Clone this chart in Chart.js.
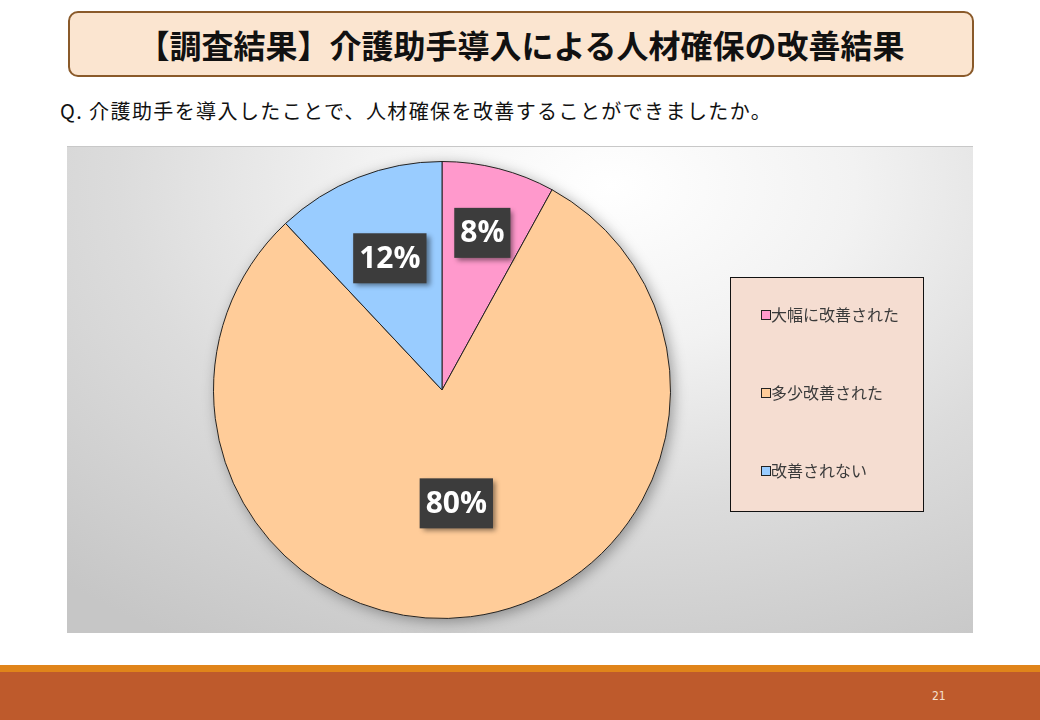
<!DOCTYPE html>
<html lang="ja">
<head>
<meta charset="utf-8">
<script src="https://cdn.jsdelivr.net/npm/chart.js@4/dist/chart.umd.min.js"></script>
<style>
  html, body { margin: 0; padding: 0; }
  body {
    width: 1040px; height: 720px; position: relative; overflow: hidden;
    background: #fff;
    font-family: "Noto Sans CJK JP", "Noto Sans", sans-serif;
  }
  .title {
    position: absolute; left: 68px; top: 11px; width: 902px; height: 62px;
    border: 2px solid #8a5a2a; border-radius: 10px;
    background: #fbe5d0;
    display: flex; align-items: center; justify-content: center;
    font-size: 32px; font-weight: bold; color: #111;
  }
  .question {
    position: absolute; left: 60px; top: 96px;
    font-size: 20px; letter-spacing: 1.4px; color: #111;
  }
  .plot {
    position: absolute; left: 67px; top: 146px; width: 906px; height: 486px;
    background: radial-gradient(ellipse 90% 110% at 60% 8%, #ffffff 0%, #f2f2f2 30%, #dcdcdc 60%, #c6c6c6 100%);
    border-top: 1px solid #c8c8c8;
  }
  .footer-stripe { position: absolute; left: 0; top: 665px; width: 1040px; height: 7px; background: #e0841a; }
  .footer { position: absolute; left: 0; top: 672px; width: 1040px; height: 48px; background: #be5a2c; }
  .page { position: absolute; left: 932px; top: 689px; font-size: 12px; color: #f5e0d0; font-family: "DejaVu Sans Condensed", sans-serif; }
</style>
</head>
<body>
<div class="title">【調査結果】介護助手導入による人材確保の改善結果</div>
<div class="question">Q.&nbsp;介護助手を導入したことで、人材確保を改善することができましたか。</div>
<div class="plot"><canvas id="chart-pie" width="906" height="486"></canvas></div>
<div class="footer-stripe"></div>
<div class="footer"></div>
<div class="page">21</div>

<script>
// Answer categories and share of respondents (%)
const CATEGORIES = ['大幅に改善された', '多少改善された', '改善されない']
const VALUES = [8, 80, 12]
const COLORS = ['#ff99cc', '#ffcc99', '#99ccff']

// where each % label sits, as a fraction of the radius (Excel best-fit look)
const LABEL_RADIUS = [0.71, 0.5, 0.62]

const pieShadowPlugin = {
  id: 'pieShadow',
  beforeDatasetsDraw(chart) {
    const ctx = chart.ctx
    ctx.save()
    ctx.shadowColor = 'rgba(0, 0, 0, 0.35)'
    ctx.shadowBlur = 14
    ctx.shadowOffsetX = 3
    ctx.shadowOffsetY = 3
    const arc = chart.getDatasetMeta(0).data[0]
    ctx.beginPath()
    ctx.arc(arc.x, arc.y, arc.outerRadius, 0, Math.PI * 2)
    ctx.fillStyle = '#ffcc99'
    ctx.fill()
    ctx.restore()
  },
}

const valueLabelPlugin = {
  id: 'valueLabels',
  afterDatasetsDraw(chart) {
    const ctx = chart.ctx
    const meta = chart.getDatasetMeta(0)
    ctx.save()
    ctx.font = 'bold 30px "Open Sans", "DejaVu Sans", sans-serif'
    ctx.textAlign = 'center'
    ctx.textBaseline = 'middle'
    meta.data.forEach((arc, i) => {
      const mid = (arc.startAngle + arc.endAngle) / 2
      const r = arc.outerRadius * LABEL_RADIUS[i]
      const x = arc.x + Math.cos(mid) * r
      const y = arc.y + Math.sin(mid) * r
      const text = VALUES[i] + '%'
      const w = ctx.measureText(text).width + 12
      const h = 50
      ctx.save()
      ctx.shadowColor = 'rgba(0, 0, 0, 0.45)'
      ctx.shadowBlur = 5
      ctx.shadowOffsetX = 3
      ctx.shadowOffsetY = 3
      ctx.fillStyle = '#3c3c3c'
      ctx.fillRect(x - w / 2, y - h / 2, w, h)
      ctx.restore()
      ctx.fillStyle = '#ffffff'
      ctx.fillText(text, x, y + 1)
    })
    ctx.restore()
  },
}

const boxLegendPlugin = {
  id: 'boxLegend',
  afterDraw(chart) {
    const ctx = chart.ctx
    const bx = 663, by = 130, bw = 193, bh = 234
    ctx.save()
    ctx.fillStyle = '#f5ddd1'
    ctx.fillRect(bx, by, bw, bh)
    ctx.strokeStyle = '#111'
    ctx.lineWidth = 1
    ctx.strokeRect(bx + 0.5, by + 0.5, bw, bh)
    ctx.font = '16px "Noto Sans CJK JP", sans-serif'
    ctx.textBaseline = 'middle'
    CATEGORIES.forEach((label, i) => {
      const y = by + 38 + i * 78
      ctx.fillStyle = COLORS[i]
      ctx.fillRect(bx + 31, y - 5, 9, 9)
      ctx.strokeStyle = '#222'
      ctx.strokeRect(bx + 31.5, y - 4.5, 9, 9)
      ctx.fillStyle = '#3a3a3a'
      ctx.fillText(label, bx + 41, y)
    })
    ctx.restore()
  },
}

new Chart(document.getElementById('chart-pie'), {
  type: 'pie',
  data: {
    labels: CATEGORIES,
    datasets: [{
      data: VALUES,
      backgroundColor: COLORS,
      borderColor: '#222',
      borderWidth: 1,
    }],
  },
  options: {
    responsive: false,
    animation: false,
    layout: { padding: { left: 146, right: 302, top: 14, bottom: 14 } },
    plugins: {
      legend: { display: false },
      tooltip: { enabled: false },
    },
  },
  plugins: [pieShadowPlugin, valueLabelPlugin, boxLegendPlugin],
})
</script>
</body>
</html>
